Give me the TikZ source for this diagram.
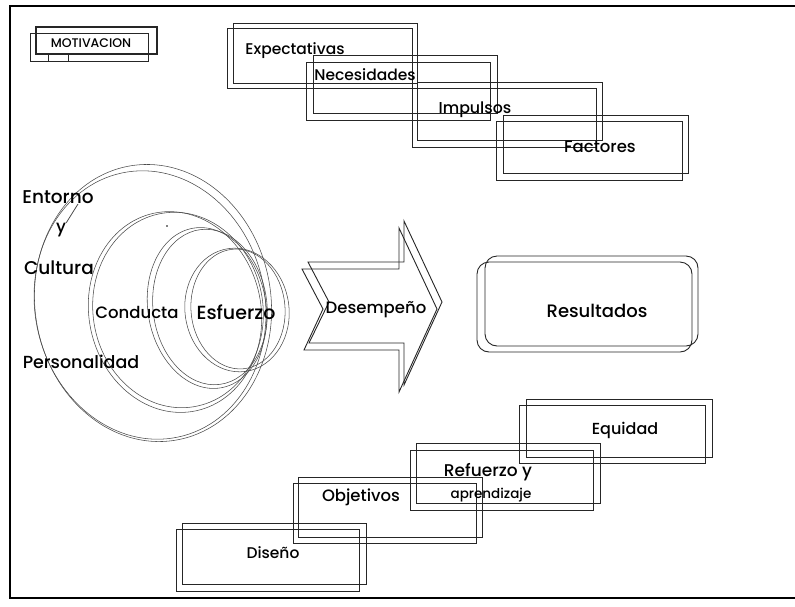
\documentclass[tikz,border=0pt]{standalone}
\usepackage{fontspec}
\setmainfont{Poppins Medium}
\begin{document}
\begin{tikzpicture}[x=1pt,y=-1pt,
  lbl/.style={inner sep=0pt, font=\fontsize{#1}{#1}\selectfont},
  lbl/.default=15,
  frame/.style={line width=1.1pt},
  bx/.style={line width=0.9pt, black!85},
  ring/.style={line width=0.55pt, black!70},
]
\useasboundingbox (0,0) rectangle (795,606);

% outer frame (open on the right)
\draw[frame] (795,6) -- (10,6) -- (10,598) -- (795,598);

% title box
\draw[bx] (30,33) rectangle (148,61);
\draw[bx, line width=1.4pt] (36,27) rectangle (157,54);
\draw[bx, line width=0.6pt] (48,54) -- (48,61) (68,54) -- (68,61);
\node[lbl=12.5] (mot) at (91,43) {MOTIVACION};

% upper staircase of paired boxes
\draw[bx] (227,28) rectangle (412,88);  \draw[bx] (233,23) rectangle (417,83);
\draw[bx] (306,62) rectangle (490,120); \draw[bx] (313,55) rectangle (497,113);
\draw[bx] (412,88) rectangle (596,147); \draw[bx] (417,82) rectangle (602,140);
\draw[bx] (496,121) rectangle (682,180);\draw[bx] (503,115) rectangle (688,173);
\node[lbl=15.5] (exp) at (295,51) {Expectativas};
\node[lbl=15.5] (nec) at (365,75) {Necesidades};
\node[lbl=15.8] (imp) at (475,110) {Impulsos};
\node[lbl=16.5] (fac) at (600,147) {Factores};

% nested rings
\draw[ring, rotate around={12:(150,305)}] (150,305) ellipse [x radius=115, y radius=135];
\draw[ring, rotate around={9:(153,303)}] (153,303) ellipse [x radius=118, y radius=139];
\draw[ring, rotate around={12:(175,312)}] (175,312) ellipse [x radius=86, y radius=101];
\draw[ring, rotate around={9:(178,310)}] (178,310) ellipse [x radius=85, y radius=98];
\draw[ring, rotate around={10:(207,308)}] (207,308) ellipse [x radius=59, y radius=81];
\draw[ring, rotate around={7:(210,307)}] (210,307) ellipse [x radius=57, y radius=78];
\draw[ring, rotate around={8:(237,310)}] (237,310) ellipse [x radius=52, y radius=62];
\draw[ring, rotate around={5:(238,309)}] (238,309) ellipse [x radius=47, y radius=60];
\fill (167,226) circle [radius=0.9];

\node[lbl=18.5] (ent) at (58,197) {Entorno};
\node[lbl=17] (yy) at (61,230) {y};
\coordinate (p1) at (78,204);
\draw[ring, line width=0.8pt] (p1) -- (yy.north east);
\node[lbl=18.5] (cul) at (59,268) {Cultura};
\node[lbl=16.5] (con) at (137,312) {Conducta};
\node[lbl=19] (esf) at (236,312) {Esfuerzo};
\node[lbl=17.5] (per) at (81,362) {Personalidad};

% performance arrow
\draw[bx] (308,262) -- (404,262) -- (404,221) -- (442,302) -- (404,385) -- (404,343)
  -- (309,343) -- (329,302) -- cycle;
\draw[bx] (302,269) -- (399,269) -- (399,228) -- (437,309) -- (399,392) -- (399,350)
  -- (304,350) -- (323,309) -- cycle;
\node[lbl=16.5] (des) at (376,310) {Desempeño};

% results box
\draw[bx] (485,256) [rounded corners=12] rectangle (698,346);
\draw[bx] (477,262) [rounded corners=12] rectangle (692,352);
\node[lbl=18] (res) at (597,311) {Resultados};

% lower staircase of paired boxes
\draw[bx] (176,529) rectangle (359,591); \draw[bx] (182,523) rectangle (366,584);
\draw[bx] (293,483) rectangle (476,543); \draw[bx] (298,477) rectangle (482,537);
\draw[bx] (410,450) rectangle (593,510); \draw[bx] (416,443) rectangle (600,503);
\draw[bx] (519,405) rectangle (705,463); \draw[bx] (526,399) rectangle (712,457);
\node[lbl=15.5] (dis) at (273,553) {Diseño};
\node[lbl=16.5] (obj) at (361,497) {Objetivos};
\node[lbl=17] (ref) at (488,472) {Refuerzo y};
\node[lbl=13.5] (apr) at (491,495) {aprendizaje};
\node[lbl=16] (equ) at (625,430) {Equidad};
\end{tikzpicture}
\end{document}
